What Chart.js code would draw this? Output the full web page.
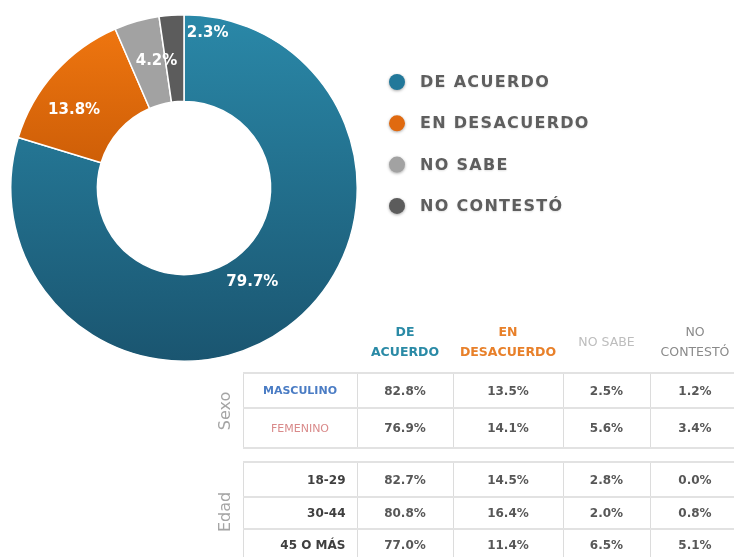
<!DOCTYPE html>
<html>
<head>
<meta charset="utf-8">
<script src="https://cdn.jsdelivr.net/npm/chart.js@4.4.1/dist/chart.umd.min.js"></script>
<style>
  body { margin: 0; background: #fff; font-family: "DejaVu Sans", sans-serif; }
  #wrap { position: relative; width: 734px; height: 557px; overflow: hidden; }
  #chart { position: absolute; left: 0; top: 0; }
  #tbl { position: absolute; left: 205px; top: 322px; width: 535px; border-collapse: collapse; table-layout: fixed; }
  #tbl td { padding: 0; text-align: center; font-size: 12px; font-weight: bold; color: #575757; }
  #tbl tr.head td { vertical-align: top; line-height: 20px; font-size: 12.5px; }
  #tbl td.val { border-right: 1px solid #dcdcdc; border-bottom: 2px solid #e2e2e2; }
  #tbl td.lab { border-left: 1px solid #dcdcdc; border-right: 1px solid #dcdcdc; border-bottom: 2px solid #e2e2e2; font-size: 11px; }
  #tbl tr.first td.val, #tbl tr.first td.lab { border-top: 2px solid #e2e2e2; }
  #tbl td.grp { position: relative; color: #a5a5a5; font-weight: normal; font-size: 16px; }
  #tbl td.grp span { position: absolute; left: 50%; top: 50%; transform: translate(-50%, -50%) rotate(-90deg); }
  #tbl td.age { text-align: right; padding-right: 11px; color: #3f3f3f; font-size: 12px; }
</style>
</head>
<body>
<div id="wrap">
  <canvas id="chart" width="734" height="376"></canvas>
  <table id="tbl"></table>
</div>
<script>
const categories = ['DE ACUERDO', 'EN DESACUERDO', 'NO SABE', 'NO CONTESTÓ'];
const totals = [79.7, 13.8, 4.2, 2.3];
const colors = ['#22789a', '#e06a10', '#a2a2a2', '#5c5c5c'];

const headerLabels = ['DE<br>ACUERDO', 'EN<br>DESACUERDO', 'NO SABE', 'NO<br>CONTESTÓ'];
const headerColors = ['#2a8aa6', '#e8802a', '#bdbdbd', '#8a8a8a'];
const sexoLabels = ['MASCULINO', 'FEMENINO'];
const sexoColors = ['#4a7cc4', '#d98a8a'];
const masculino = [82.8, 13.5, 2.5, 1.2];
const femenino = [76.9, 14.1, 5.6, 3.4];
const edadLabels = ['18-29', '30-44', '45 O MÁS'];
const edad18 = [82.7, 14.5, 2.8, 0.0];
const edad30 = [80.8, 16.4, 2.0, 0.8];
const edad45 = [77.0, 11.4, 6.5, 5.1];

// label nudges so text sits where the original has it
const labelShift = [[-9, -10], [-13, 9], [8, -2], [33, -25]];

function sliceColor(ctx) {
    const i = ctx.dataIndex;
    const area = ctx.chart.chartArea;
    if (!area || i > 1) return colors[i];
    const g = ctx.chart.ctx.createLinearGradient(0, area.top, 0, area.bottom);
    if (i === 0) {
        g.addColorStop(0, '#2a88a8');
        g.addColorStop(1, '#1a5570');
    } else {
        g.addColorStop(0, '#f27810');
        g.addColorStop(0.5, '#c85a06');
        g.addColorStop(1, '#c85a06');
    }
    return g;
}

const sliceLabels = {
    id: 'sliceLabels',
    afterDatasetsDraw(chart) {
        const ctx = chart.ctx;
        const meta = chart.getDatasetMeta(0);
        ctx.save();
        ctx.font = 'bold 15px "DejaVu Sans"';
        ctx.fillStyle = '#fff';
        ctx.textAlign = 'center';
        ctx.textBaseline = 'middle';
        meta.data.forEach(function (arc, i) {
            const p = arc.tooltipPosition();
            ctx.fillText(totals[i].toFixed(1) + '%', p.x + labelShift[i][0], p.y + labelShift[i][1]);
        });
        ctx.restore();
    }
};

const sideLegend = {
    id: 'sideLegend',
    afterDraw(chart) {
        const ctx = chart.ctx;
        ctx.save();
        ctx.textBaseline = 'middle';
        ctx.font = 'bold 16px "DejaVu Sans"';
        categories.forEach(function (name, i) {
            const y = 82 + i * 41.3;
            ctx.shadowColor = 'rgba(0,0,0,0.35)';
            ctx.shadowBlur = 3;
            ctx.shadowOffsetY = 1;
            ctx.beginPath();
            ctx.arc(397, y, 8, 0, Math.PI * 2);
            ctx.fillStyle = colors[i];
            ctx.fill();
            ctx.shadowColor = 'rgba(0,0,0,0.12)';
            ctx.shadowBlur = 2;
            ctx.fillStyle = '#5e5e5e';
            ctx.letterSpacing = '1.3px';
            ctx.fillText(name, 420, y + 1);
        });
        ctx.restore();
    }
};

new Chart(document.getElementById('chart'), {
    type: 'doughnut',
    data: {
        labels: categories,
        datasets: [{
            data: totals,
            backgroundColor: sliceColor,
            borderColor: '#ffffff',
            borderWidth: 1.5
        }]
    },
    options: {
        responsive: false,
        animation: false,
        cutout: '50%',
        layout: { padding: { left: 10, top: 14, bottom: 14, right: 376 } },
        plugins: {
            legend: { display: false },
            tooltip: { enabled: false }
        }
    },
    plugins: [sliceLabels, sideLegend]
});

// summary table
const colWidths = [38, 114, 96, 110, 87, 90];
const tbl = document.getElementById('tbl');
const cg = document.createElement('colgroup');
colWidths.forEach(function (w) {
    const c = document.createElement('col');
    c.style.width = w + 'px';
    cg.appendChild(c);
});
tbl.appendChild(cg);

let html = '<tr class="head" style="height:51px"><td></td><td></td>';
headerLabels.forEach(function (h, i) {
    const weight = i < 2 ? 'bold' : 'normal';
    const pad = h.indexOf('<br>') < 0 ? 'padding-top:10px;' : '';
    html += '<td style="color:' + headerColors[i] + ';font-weight:' + weight + ';' + pad + '">' + h + '</td>';
});
html += '</tr>';

function dataRow(groupCell, labelCell, values, height, first) {
    let r = '<tr' + (first ? ' class="first"' : '') + ' style="height:' + height + 'px">' + groupCell + labelCell;
    values.forEach(function (v) {
        r += '<td class="val">' + v.toFixed(1) + '%</td>';
    });
    return r + '</tr>';
}

const sexoRows = [masculino, femenino];
const sexoHeights = [35, 40];
sexoRows.forEach(function (vals, i) {
    const grp = i === 0 ? '<td class="grp" rowspan="2"><span>Sexo</span></td>' : '';
    const lab = '<td class="lab" style="color:' + sexoColors[i] + ';font-weight:' + (i === 0 ? 'bold' : 'normal') + '">' + sexoLabels[i] + '</td>';
    html += dataRow(grp, lab, vals, sexoHeights[i], i === 0);
});
html += '<tr style="height:14px"><td colspan="6"></td></tr>';

const edadRows = [edad18, edad30, edad45];
const edadHeights = [35, 32, 32];
edadRows.forEach(function (vals, i) {
    const grp = i === 0 ? '<td class="grp" rowspan="3"><span>Edad</span></td>' : '';
    const lab = '<td class="lab age">' + edadLabels[i] + '</td>';
    html += dataRow(grp, lab, vals, edadHeights[i], i === 0);
});
tbl.innerHTML += html;
</script>
</body>
</html>
